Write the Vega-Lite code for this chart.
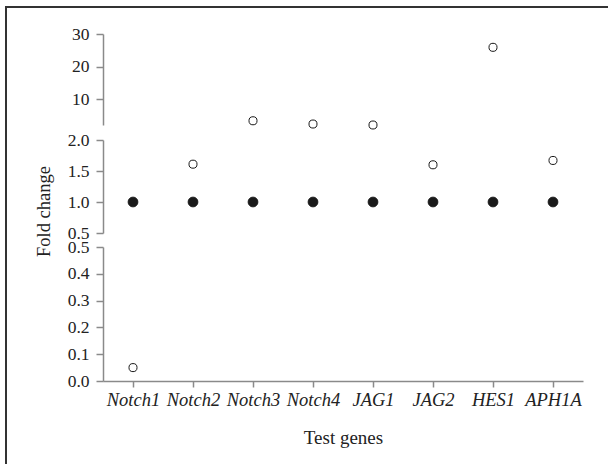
{
  "$schema": "https://vega.github.io/schema/vega-lite/v6.json",
  "autosize": "none",
  "padding": {"left": 6, "top": 7, "right": 0, "bottom": 0},
  "width": 602,
  "height": 457,
  "background": "white",
  "config": {
    "view": {"stroke": "#333333", "strokeWidth": 2, "strokeDash": [1059, 1059], "strokeDashOffset": 457},
    "axis": {
      "grid": false,
      "domainColor": "#8a8a8a",
      "domainWidth": 1.5,
      "tickColor": "#8a8a8a",
      "tickWidth": 1.5,
      "labelFont": "Liberation Serif",
      "labelColor": "#222222",
      "titleFont": "Liberation Serif",
      "titleColor": "#222222",
      "titleFontWeight": "normal",
      "labelOverlap": false,
      "labelFlush": false,
      "labelBound": false
    }
  },
  "data": {
    "values": [
      {"gene": "Notch1", "group": "Control", "value": 1.0},
      {"gene": "Notch2", "group": "Control", "value": 1.0},
      {"gene": "Notch3", "group": "Control", "value": 1.0},
      {"gene": "Notch4", "group": "Control", "value": 1.0},
      {"gene": "JAG1", "group": "Control", "value": 1.0},
      {"gene": "JAG2", "group": "Control", "value": 1.0},
      {"gene": "HES1", "group": "Control", "value": 1.0},
      {"gene": "APH1A", "group": "Control", "value": 1.0},
      {"gene": "Notch1", "group": "Treated", "value": 0.05},
      {"gene": "Notch2", "group": "Treated", "value": 1.61},
      {"gene": "Notch3", "group": "Treated", "value": 3.3},
      {"gene": "Notch4", "group": "Treated", "value": 2.3},
      {"gene": "JAG1", "group": "Treated", "value": 2.0},
      {"gene": "JAG2", "group": "Treated", "value": 1.6},
      {"gene": "HES1", "group": "Treated", "value": 25.9},
      {"gene": "APH1A", "group": "Treated", "value": 1.67}
    ]
  },
  "encoding": {
    "x": {
      "field": "gene",
      "type": "nominal",
      "sort": ["Notch1", "Notch2", "Notch3", "Notch4", "JAG1", "JAG2", "HES1", "APH1A"],
      "scale": {"range": [97, 577], "paddingInner": 0, "paddingOuter": 0},
      "axis": {
        "orient": "bottom",
        "offset": -83,
        "labelAngle": 0,
        "labelFontSize": 18.5,
        "labelFontStyle": "italic",
        "labelPadding": 3,
        "tickSize": 6,
        "title": "Test genes",
        "titleFontSize": 19,
        "titleY": 62,
        "titleBaseline": "alphabetic"
      }
    },
    "fill": {
      "field": "group",
      "type": "nominal",
      "scale": {"domain": ["Control", "Treated"], "range": ["#1a1a1a", "#ffffff"]},
      "legend": null
    },
    "size": {
      "field": "group",
      "type": "ordinal",
      "scale": {"domain": ["Control", "Treated"], "range": [95, 65]},
      "legend": null
    }
  },
  "layer": [
    {
      "transform": [{"filter": "datum.value >= 2"}],
      "mark": {"type": "point", "shape": "circle", "filled": true, "stroke": "#1a1a1a", "strokeWidth": 1, "opacity": 1},
      "encoding": {
        "y": {
          "field": "value",
          "type": "quantitative",
          "scale": {"domain": [2, 30], "range": [118, 27], "zero": false, "nice": false},
          "axis": {
            "orient": "left",
            "offset": -97,
            "values": [10, 20, 30],
            "labelFontSize": 17.5,
            "tickSize": 7,
            "labelPadding": 7,
            "title": null
          }
        }
      }
    },
    {
      "transform": [{"filter": "datum.value >= 0.5 && datum.value < 2"}],
      "mark": {"type": "point", "shape": "circle", "filled": true, "stroke": "#1a1a1a", "strokeWidth": 1, "opacity": 1},
      "encoding": {
        "y": {
          "field": "value",
          "type": "quantitative",
          "scale": {"domain": [0.5, 2], "range": [226, 133], "zero": false, "nice": false},
          "axis": {
            "orient": "left",
            "offset": -97,
            "values": [0.5, 1, 1.5, 2],
            "format": ".1f",
            "labelFontSize": 17.5,
            "tickSize": 7,
            "labelPadding": 7,
            "title": "Fold change",
            "titleFontSize": 18.5,
            "titleX": -60,
            "titleY": 204,
            "titleAngle": -90,
            "titleAlign": "center",
            "titleBaseline": "middle"
          }
        }
      }
    },
    {
      "transform": [{"filter": "datum.value < 0.5"}],
      "mark": {"type": "point", "shape": "circle", "filled": true, "stroke": "#1a1a1a", "strokeWidth": 1, "opacity": 1},
      "encoding": {
        "y": {
          "field": "value",
          "type": "quantitative",
          "scale": {"domain": [0, 0.5], "range": [374, 240], "zero": false, "nice": false},
          "axis": {
            "orient": "left",
            "offset": -97,
            "values": [0, 0.1, 0.2, 0.3, 0.4, 0.5],
            "format": ".1f",
            "labelFontSize": 17.5,
            "tickSize": 7,
            "labelPadding": 7,
            "title": null
          }
        }
      }
    }
  ],
  "resolve": {"scale": {"y": "independent"}, "axis": {"y": "independent"}}
}
